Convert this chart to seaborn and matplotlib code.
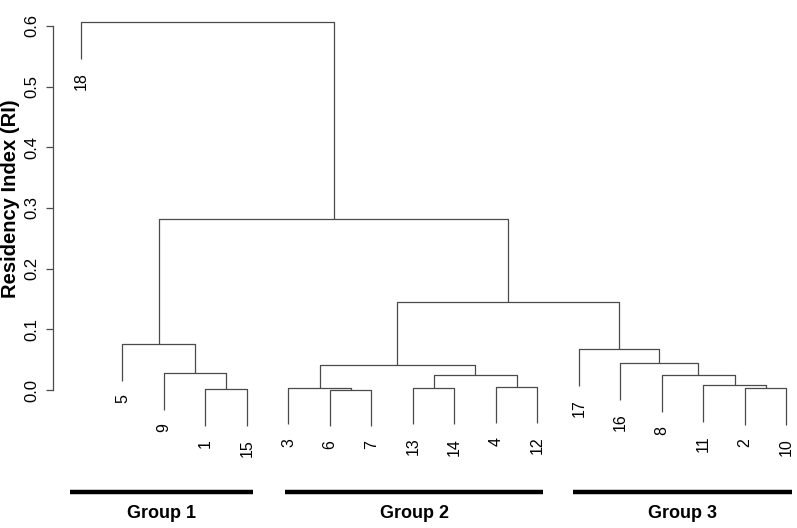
#Import packages
import numpy as np
import pandas as pd
import seaborn as sns
import matplotlib
matplotlib.use('Agg')
import matplotlib.pyplot as plt

################################
#####Dendrogram data############
################################

#Leaf labels in plotting order (left to right)
leafOrder=['18','5','9','1','15','3','6','7','13','14','4','12','17','16','8','11','2','10']

#Merges: left child, right child, height (m<k> refers to k-th merge)
mergeLeft=['1','9','5','6','3','13','4','m5','m4','2','11','8','16','17','m8','m2','18']
mergeRight=['15','m0','m1','7','m3','14','12','m6','m7','10','m9','m10','m11','m12','m13','m14','m15']
mergeHeight=[0.002,0.028,0.075,0.0008,0.004,0.004,0.0055,0.024,0.042,0.003,0.008,0.024,0.044,0.068,0.1445,0.282,0.606]

#Group bars below the tree (in leaf units)
groupNames=['Group 1','Group 2','Group 3']
groupStart=[0.74,5.92,12.86]
groupEnd=[5.14,12.13,18.13]

yTicks=[0.0,0.1,0.2,0.3,0.4,0.5,0.6]

################################
#####Plot######################
################################

sns.set_theme(style='ticks')
plt.rcParams['font.family']=['Liberation Sans','DejaVu Sans']
plt.rcParams['text.color']='black'
plt.rcParams['ytick.labelcolor']='black'

lineCol='#4a4a4a'
hang=0.1*max(mergeHeight)

fig=plt.figure(figsize=(7.97,5.28),dpi=100)
ax=fig.add_axes([53/797,0,1-53/797,1])

leafPos={lab:i+1 for i,lab in enumerate(leafOrder)}
nodePos={}
nodeHeight={}

def childCoord(name,parentH):
    if name.startswith('m'):
        return nodePos[name],nodeHeight[name]
    return leafPos[name],parentH-hang

for k in range(len(mergeHeight)):
    h=mergeHeight[k]
    xl,yl=childCoord(mergeLeft[k],h)
    xr,yr=childCoord(mergeRight[k],h)
    ax.plot([xl,xl,xr,xr],[yl,h,h,yr],color=lineCol,lw=0.9,solid_capstyle='butt')
    nodePos['m'+str(k)]=(xl+xr)/2.
    nodeHeight['m'+str(k)]=h
    #leaf labels
    for name,x,y in [(mergeLeft[k],xl,yl),(mergeRight[k],xr,yr)]:
        if not name.startswith('m'):
            ax.text(x,y-0.022,name,rotation=90,ha='center',va='top',fontsize=11.5,color='black')

#Group bars and labels
groupDF=pd.DataFrame({'group':groupNames,'start':groupStart,'end':groupEnd})
for i,row in groupDF.iterrows():
    ax.plot([row['start'],row['end']],[-0.1676,-0.1676],color='black',lw=3.2,solid_capstyle='butt')
    ax.text((row['start']+row['end'])/2.,-0.203,row['group'],ha='center',va='center',
            fontsize=13,fontweight='bold',color='black')

ax.set_xlim(1-28/41.5,1+(797-81)/41.5)
ax.set_ylim(-(528-390)/606.7,390/606.7)

sns.despine(ax=ax,bottom=True)
ax.spines['left'].set_bounds(0,0.6)
ax.spines['left'].set_color(lineCol)
ax.spines['left'].set_linewidth(0.9)
ax.set_xticks([])
ax.set_yticks(yTicks)
ax.set_yticklabels(['%.1f'%t for t in yTicks],rotation=90,va='center',fontsize=12,color='black')
ax.tick_params(axis='y',length=5,width=0.9,color=lineCol,pad=5)
ax.set_facecolor('white')

fig.text(10.5/797,1-199/528,'Residency Index (RI)',rotation=90,ha='center',va='center',
         fontsize=14.5,fontweight='bold',color='black')

fig.savefig('out.png',dpi=100,facecolor='white')
